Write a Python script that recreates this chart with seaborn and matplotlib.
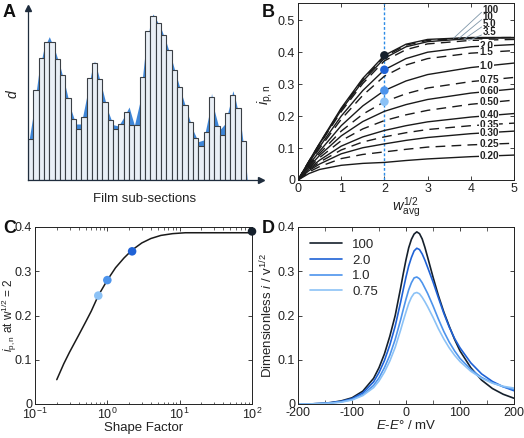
"""Four-panel figure: film sub-sections, i_pn vs w^1/2, shape factor and voltammograms"""

import numpy as np
import pandas as pd
import matplotlib
matplotlib.use("Agg")
import matplotlib.pyplot as plt
import seaborn as sns

sns.set_theme(style="ticks")
plt.rcParams["font.family"] = ["Liberation Sans", "DejaVu Sans"]
plt.rcParams["mathtext.fontset"] = "custom"
plt.rcParams["mathtext.rm"] = "Liberation Sans"
plt.rcParams["mathtext.it"] = "Liberation Sans:italic"
plt.rcParams["mathtext.bf"] = "Liberation Sans:bold"
plt.rcParams["axes.unicode_minus"] = False

# ---- A: thickness of each film sub-section and the smooth profile behind it
bar_heights = [122, 269, 366, 415, 415, 364, 316, 245, 184, 153, 188, 305, 350, 304,
               235, 180, 152, 168, 205, 164, 164, 308, 446, 492, 471, 435, 389, 331,
               280, 224, 173, 126, 103, 143, 248, 163, 135, 202, 256, 215, 117]
profile_x = [-0.5, 0.5, 1.5, 2.5, 3.5, 4.5, 5.5, 6.5, 7.5, 8.5, 9.5, 10.5, 11.5, 12.0,
             12.5, 13.5, 14.5, 15.5, 16.5, 17.5, 18.5, 19.5, 20.5, 21.5, 22.5, 23.0,
             23.5, 24.5, 25.5, 26.5, 27.5, 28.5, 29.5, 30.5, 31.5, 32.5, 33.5, 34.0,
             34.5, 35.5, 36.5, 37.5, 38.0, 38.5, 39.5, 40.5, 40.7]
profile_y = [100, 200, 320, 395, 430, 392, 342, 282, 215, 168, 168, 248, 330, 357,
             330, 270, 208, 166, 162, 188, 219, 164, 232, 380, 472, 498,
             484, 455, 412, 362, 306, 252, 200, 150, 115, 120, 196, 260,
             210, 150, 168, 230, 268, 240, 168, 40, 0]

# ---- B: i_p,n against w_avg^1/2 for each shape factor
w_half = [0, 0.25, 0.5, 1, 1.5, 2, 2.5, 3, 4, 5]
shape_labels = ["100", "10", "5.0", "3.5", "2.0", "1.5", "1.0", "0.75", "0.60",
                "0.50", "0.40", "0.35", "0.30", "0.25", "0.20"]
ip_curves = [
    [0, 0.058, 0.115, 0.225, 0.318, 0.390, 0.425, 0.440, 0.446, 0.446],
    [0, 0.058, 0.114, 0.222, 0.314, 0.386, 0.422, 0.437, 0.445, 0.446],
    [0, 0.057, 0.113, 0.219, 0.309, 0.381, 0.417, 0.433, 0.443, 0.445],
    [0, 0.056, 0.111, 0.214, 0.302, 0.373, 0.408, 0.426, 0.437, 0.440],
    [0, 0.053, 0.104, 0.200, 0.280, 0.345, 0.380, 0.400, 0.417, 0.424],
    [0, 0.051, 0.099, 0.190, 0.265, 0.325, 0.360, 0.380, 0.397, 0.405],
    [0, 0.047, 0.090, 0.170, 0.232, 0.280, 0.310, 0.330, 0.352, 0.366],
    [0, 0.044, 0.083, 0.153, 0.206, 0.245, 0.270, 0.288, 0.308, 0.321],
    [0, 0.041, 0.077, 0.138, 0.183, 0.215, 0.236, 0.252, 0.272, 0.285],
    [0, 0.038, 0.070, 0.123, 0.160, 0.186, 0.204, 0.218, 0.237, 0.250],
    [0, 0.035, 0.062, 0.106, 0.135, 0.155, 0.170, 0.182, 0.197, 0.208],
    [0, 0.032, 0.056, 0.094, 0.119, 0.135, 0.148, 0.158, 0.170, 0.178],
    [0, 0.029, 0.050, 0.082, 0.101, 0.113, 0.124, 0.133, 0.145, 0.153],
    [0, 0.025, 0.042, 0.067, 0.080, 0.088, 0.096, 0.103, 0.110, 0.115],
    [0, 0.020, 0.033, 0.046, 0.052, 0.055, 0.061, 0.066, 0.073, 0.078],
]
picked_w = 2
picked_ip = [0.390, 0.345, 0.280, 0.245]

# ---- C: i_p,n at w^1/2 = 2 against shape factor
shape_factor = [0.2, 0.25, 0.3, 0.4, 0.5, 0.6, 0.75, 1.0, 1.3, 1.7, 2.2, 3, 4, 5.5, 8, 12, 20, 100]
ip_at_2 = [0.055, 0.091, 0.117, 0.155, 0.185, 0.21, 0.245, 0.28, 0.308, 0.33, 0.348,
           0.364, 0.374, 0.381, 0.385, 0.387, 0.387, 0.387]
picked_sf = [100, 2.2, 1.0, 0.75]

# ---- D: dimensionless voltammograms
E_mv = [-200, -180, -160, -140, -120, -100, -80, -60, -50, -40, -30, -20, -10, -5, 0, 5,
        10, 15, 20, 25, 30, 35, 40, 50, 60, 70, 80, 90, 100, 120, 140, 160, 180, 200]
cv_100 = [0.000, 0.000, 0.001, 0.003, 0.007, 0.014, 0.029, 0.058, 0.082, 0.113, 0.153,
          0.200, 0.262, 0.295, 0.326, 0.353, 0.372, 0.384, 0.389, 0.385, 0.373, 0.354,
          0.332, 0.287, 0.245, 0.208, 0.176, 0.146, 0.120, 0.082, 0.054, 0.035, 0.022, 0.013]
cv_2 = [0.000, 0.000, 0.001, 0.003, 0.006, 0.012, 0.025, 0.050, 0.071, 0.098, 0.133,
        0.176, 0.230, 0.259, 0.287, 0.312, 0.331, 0.346, 0.352, 0.349, 0.339, 0.325,
        0.309, 0.276, 0.240, 0.205, 0.174, 0.148, 0.127, 0.093, 0.068, 0.051, 0.039, 0.030]
cv_1 = [0.000, 0.000, 0.001, 0.002, 0.005, 0.010, 0.021, 0.042, 0.059, 0.082, 0.110,
        0.146, 0.190, 0.214, 0.237, 0.258, 0.274, 0.285, 0.287, 0.283, 0.274, 0.262,
        0.250, 0.222, 0.192, 0.164, 0.140, 0.120, 0.103, 0.078, 0.060, 0.048, 0.039, 0.033]
cv_075 = [0.000, 0.000, 0.001, 0.002, 0.004, 0.009, 0.019, 0.037, 0.052, 0.072, 0.097,
          0.128, 0.167, 0.188, 0.208, 0.227, 0.241, 0.250, 0.252, 0.249, 0.241, 0.231,
          0.220, 0.196, 0.170, 0.147, 0.127, 0.110, 0.096, 0.074, 0.058, 0.047, 0.040, 0.036]
cv_labels = ["100", "2.0", "1.0", "0.75"]

colors = ["#15202c", "#1f62d6", "#4d94ec", "#8cc2f6"]
dark = "#222222"

W, H = 524, 438
fig = plt.figure(figsize=(W / 100, H / 100), dpi=100)


def box(l, t, r, b):
    return [l / W, 1 - b / H, (r - l) / W, (b - t) / H]


def matlab_axes(ax):
    ax.tick_params(direction="in", top=True, right=True, length=3, width=0.6,
                   labelsize=9, colors=dark, pad=2)
    ax.tick_params(which="minor", direction="in", top=True, right=True, length=1.8, width=0.5)
    for s in ax.spines.values():
        s.set_linewidth(0.7)
        s.set_color(dark)


# ------------------------------------------------------------------ A
axA = fig.add_axes(box(28, 8, 261, 180))
axA.fill_between(profile_x, profile_y, color="#3f86d8", lw=0, zorder=0.5)
sns.barplot(x=list(range(len(bar_heights))), y=bar_heights, width=1, color="#e9eff6",
            saturation=1, edgecolor="#3a3f45", linewidth=0.8, ax=axA)
for p in axA.patches:
    p.set_zorder(2)
axA.set_xlim(-0.5, -0.5 + 233 / 5.32)
axA.set_ylim(0, 516)
axA.set_xticks([])
axA.set_yticks([])
sns.despine(ax=axA)
for s in ["left", "bottom"]:
    axA.spines[s].set_color("#1f2d3d")
    axA.spines[s].set_linewidth(0.9)
axA.plot(1, 0, ">", color="#1f2d3d", ms=5, transform=axA.transAxes, clip_on=False)
axA.plot(0, 1, "^", color="#1f2d3d", ms=5, transform=axA.transAxes, clip_on=False)
axA.set_xlabel("Film sub-sections", fontsize=9.5, color=dark, labelpad=9)
axA.set_ylabel("$d$", fontsize=10, color=dark, labelpad=6)

# ------------------------------------------------------------------ B
axB = fig.add_axes(box(298, 3, 514, 180))
axB.axvline(picked_w, color="#2b8be6", lw=1, ls=(0, (2, 1.5)), zorder=1)
for i, (lab, vals) in enumerate(zip(shape_labels, ip_curves)):
    ls = (0, (7, 4.5)) if i % 2 else "-"
    sns.lineplot(x=w_half, y=vals, color="k", lw=1.0, ls=ls, ax=axB, zorder=2)
    if i < 4:
        ty = [0.533, 0.510, 0.487, 0.462][i]
        ex = [3.6, 3.72, 3.85, 3.95][i]
        axB.plot([ex, 4.25], [np.interp(ex, w_half, vals), ty - 0.008], color="#7f96a8",
                 lw=0.6, zorder=3)
        axB.text(4.27, ty, lab, fontsize=7, fontweight="bold", ha="left", va="center",
                 color=dark)
    else:
        axB.text(4.2, np.interp(4.45, w_half, vals), lab, fontsize=7.2, fontweight="bold",
                 ha="left", va="center", color=dark, zorder=4,
                 bbox=dict(facecolor="white", edgecolor="none", pad=0.3))
sns.scatterplot(x=[picked_w] * 4, y=picked_ip, hue=cv_labels, palette=colors, s=38,
                edgecolor="none", legend=False, ax=axB, zorder=5)
axB.set_xlim(0, 5)
axB.set_ylim(0, 0.554)
axB.set_xticks(range(6))
axB.set_yticks([0, 0.1, 0.2, 0.3, 0.4, 0.5])
axB.set_yticklabels(["0", "0.1", "0.2", "0.3", "0.4", "0.5"])
matlab_axes(axB)
axB.set_xlabel(r"$w_{\rm avg}^{1/2}$", fontsize=10.5, color=dark, labelpad=0)
axB.set_ylabel(r"$i_{\rm p,n}$", fontsize=10.5, color=dark)
axB.yaxis.set_label_coords(-0.105, 0.48)

# ------------------------------------------------------------------ C
axC = fig.add_axes(box(35, 227, 252, 404))
sns.lineplot(x=shape_factor, y=ip_at_2, color="k", lw=1.1, ax=axC)
sns.scatterplot(x=picked_sf, y=picked_ip, hue=cv_labels, palette=colors, s=38,
                edgecolor="none", legend=False, ax=axC, zorder=5, clip_on=False)
axC.set_xscale("log")
axC.set_xlim(0.1, 100)
axC.set_ylim(0, 0.4)
axC.set_yticks([0, 0.1, 0.2, 0.3, 0.4])
axC.set_yticklabels(["0", "0.1", "0.2", "0.3", "0.4"])
matlab_axes(axC)
axC.set_xlabel("Shape Factor", fontsize=9.5, color=dark, labelpad=0)
axC.set_ylabel(r"$i_{\rm p,n}$ at w$^{1/2}$ = 2", fontsize=8.5, color=dark)
axC.yaxis.set_label_coords(-0.076, 0.5)

# ------------------------------------------------------------------ D
axD = fig.add_axes(box(298, 227, 514, 404))
cv = pd.DataFrame({"E": E_mv * 4,
                   "i": cv_100 + cv_2 + cv_1 + cv_075,
                   "shape": sum([[lab] * len(E_mv) for lab in cv_labels], [])})
sns.lineplot(data=cv, x="E", y="i", hue="shape", palette=colors, lw=1.2, ax=axD)
axD.set_xlim(-200, 200)
axD.set_ylim(0, 0.4)
axD.set_xticks([-200, -100, 0, 100, 200])
axD.set_xticks([-150, -50, 50, 150], minor=True)
axD.set_yticks([0, 0.1, 0.2, 0.3, 0.4])
axD.set_yticklabels(["0", "0.1", "0.2", "0.3", "0.4"])
matlab_axes(axD)
axD.tick_params(which="minor", length=3)
axD.legend(loc="upper left", frameon=False, fontsize=9.5, handlelength=2.4,
           labelspacing=0.25, borderaxespad=0.5, title=None)
axD.set_xlabel("$E$-$E$° / mV", fontsize=9.5, color=dark, labelpad=0)
axD.set_ylabel("Dimensionless $i$ / v$^{1/2}$", fontsize=9.5, color=dark)
axD.yaxis.set_label_coords(-0.105, 0.5)

# panel letters
for letter, x, y in [("A", 3, 4), ("B", 262, 4), ("C", 3, 220), ("D", 262, 220)]:
    fig.text(x / W, 1 - y / H, letter, fontsize=13, fontweight="bold", ha="left", va="top",
             color="#111111")

fig.savefig("out.png", dpi=100)
